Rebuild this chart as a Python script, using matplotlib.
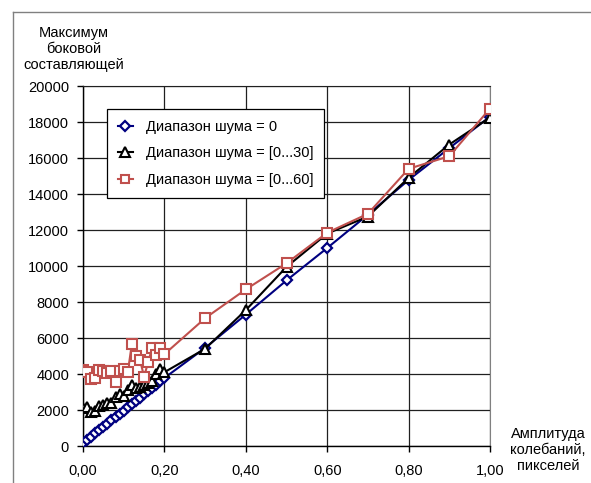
import matplotlib
matplotlib.use("Agg")
import matplotlib.pyplot as plt
from matplotlib.lines import Line2D

plt.rcParams['font.family'] = ['Liberation Sans', 'DejaVu Sans']

# данные: амплитуда колебаний и максимум боковой составляющей
x_fine = [i / 100 for i in range(21)]
x_coarse = [0.3, 0.4, 0.5, 0.6, 0.7, 0.8, 0.9, 1.0]
x_vals = x_fine + x_coarse

noise_0 = [150, 330, 520, 700, 880, 1060, 1240, 1420, 1600, 1780, 1960,
           2150, 2330, 2510, 2690, 2870, 3050, 3230, 3410, 3600, 3780,
           5450, 7300, 9200, 11000, 12850, 14780, 16550, 18300]
noise_30 = [2100, 2150, 1900, 1950, 2200, 2300, 2400, 2400, 2700, 2900, 2800,
            3100, 3400, 3200, 3300, 3400, 3500, 3600, 4000, 4300, 4100,
            5400, 7550, 9950, 11800, 12750, 14900, 16750, 18250]
noise_60 = [4250, 4100, 3750, 3800, 4200, 4150, 4050, 4150, 3550, 4150, 4300,
            4100, 5650, 5000, 4800, 3850, 4650, 5450, 5050, 5450, 5100,
            7100, 8700, 10150, 11850, 12900, 15400, 16100, 18750]

labels = ['Диапазон шума = 0', 'Диапазон шума = [0...30]', 'Диапазон шума = [0...60]']
x_ticks = [0.0, 0.2, 0.4, 0.6, 0.8, 1.0]
y_ticks = list(range(0, 20001, 2000))

blue = '#000080'
red = '#c0504d'

fig = plt.figure(figsize=(5.91, 4.83), dpi=100)
ax = fig.add_axes([83 / 591, 37 / 483, 407 / 591, 360 / 483])

ax.plot(x_vals, noise_0, color=blue, lw=1.5, marker='D', ms=5.2,
        mfc='white', mec=blue, mew=1.6, label=labels[0], zorder=3)
ax.plot(x_vals, noise_30, color='black', lw=1.5, marker='^', ms=7,
        mfc='white', mec='black', mew=1.5, label=labels[1], zorder=4)
ax.plot(x_vals, noise_60, color=red, lw=1.5, marker='s', ms=6.5,
        mfc='white', mec=red, mew=1.5, label=labels[2], zorder=5)

ax.set_xlim(0, 1)
ax.set_ylim(0, 20000)
ax.set_xticks(x_ticks)
ax.set_yticks(y_ticks)
ax.set_xticklabels([f"{v:.2f}".replace('.', ',') for v in x_ticks], fontsize=10.5)
ax.set_yticklabels([str(v) for v in y_ticks], fontsize=10.5)
ax.tick_params(axis='x', direction='out', length=4, width=1, color='black', pad=9)
ax.tick_params(axis='y', direction='out', length=4, width=1, color='black', pad=6)
ax.grid(True, color='#202020', lw=0.9)
ax.set_axisbelow(True)
for side in ['left', 'bottom']:
    ax.spines[side].set_color('black')
    ax.spines[side].set_linewidth(1)
ax.spines['right'].set_color('#808080')
ax.spines['top'].set_color('#202020')

handles = [Line2D([], [], color=blue, lw=1.5, marker='D', ms=5, mfc='white', mew=1.6),
           Line2D([], [], color='black', lw=1.5, marker='^', ms=7, mfc='white', mew=1.5),
           Line2D([], [], color=red, lw=1.5, marker='s', ms=6, mfc='white', mew=1.5)]
leg = ax.legend(handles, labels, loc='upper left', bbox_to_anchor=(24 / 407, 337 / 360),
                fontsize=10.5, frameon=True, fancybox=False, framealpha=1,
                edgecolor='black', handlelength=1.0, handletextpad=0.9,
                labelspacing=0.85, borderpad=0.75, borderaxespad=0)
leg.get_frame().set_linewidth(0.9)

fig.text(74 / 591, 1 - 49 / 483, 'Максимум\nбоковой\nсоставляющей', ha='center', va='center',
         fontsize=10.5, linespacing=1.2)
fig.text(548 / 591, 1 - 450 / 483, 'Амплитуда\nколебаний,\nпикселей', ha='center', va='center',
         fontsize=10.5, linespacing=1.2)

# рамка диаграммы
fig.add_artist(Line2D([13 / 591, 13 / 591], [0, 1 - 12 / 483], transform=fig.transFigure,
                      color='#808080', lw=1))
fig.add_artist(Line2D([13 / 591, 1], [1 - 12 / 483, 1 - 12 / 483], transform=fig.transFigure,
                      color='#808080', lw=1))

fig.savefig('out.png', dpi=100)
